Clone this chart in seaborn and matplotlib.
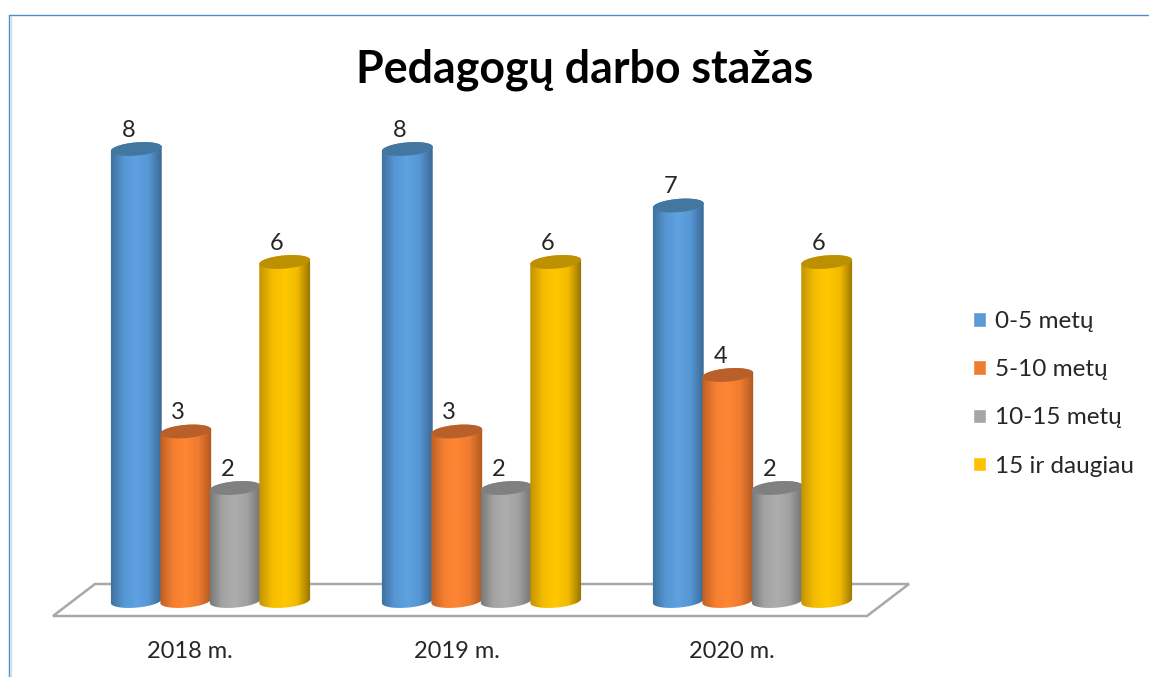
import numpy as np
import pandas as pd
import seaborn as sns
import matplotlib.pyplot as plt
from matplotlib.colors import LinearSegmentedColormap
from matplotlib.lines import Line2D
from matplotlib.patches import Polygon
from matplotlib.transforms import ScaledTranslation

years = ["2018 m.", "2019 m.", "2020 m."]
series = ["0-5 metų", "5-10 metų", "10-15 metų", "15 ir daugiau"]
v_0_5 = [8, 8, 7]
v_5_10 = [3, 3, 4]
v_10_15 = [2, 2, 2]
v_15_plus = [6, 6, 6]

legend_colors = ["#5b9bd5", "#ed7d31", "#a5a5a5", "#ffc000"]
body_colors = [
    ["#3f6f9c", "#5595d2", "#5fa2e2", "#5596d4", "#3c6a96"],
    ["#bd5f24", "#f57f32", "#ff8632", "#ee7b2f", "#b05820"],
    ["#777777", "#a3a3a3", "#adadad", "#a0a0a0", "#737373"],
    ["#c49300", "#f5bd00", "#ffc800", "#f0b900", "#947000"],
]
top_colors = ["#44779f", "#b9602a", "#808080", "#bc9000"]

W, H = 1149, 677
PX_X = 271.0    # pixels between two groups
PX_Y = 56.5     # pixels per unit
ZERO_PX = 601
GROUP0_PX = 210.5

sns.set_theme(style="white")
plt.rcParams["font.family"] = ["Lato", "DejaVu Sans"]

df = pd.DataFrame({
    "year": years * 4,
    "group": np.repeat(series, 3),
    "value": v_0_5 + v_5_10 + v_10_15 + v_15_plus,
})

fig = plt.figure(figsize=(W / 100, H / 100), dpi=100)
ax = fig.add_axes([0, (H - ZERO_PX) / H, 1, ZERO_PX / H])
sns.barplot(data=df, x="year", y="value", hue="group", hue_order=series,
            palette=legend_colors, width=0.73, gap=0, saturation=1, ax=ax)
ax.set_xlim(-GROUP0_PX / PX_X, (W - GROUP0_PX) / PX_X)
ax.set_ylim(0, ZERO_PX / PX_Y)
ax.set_xlabel("")
ax.set_ylabel("")
ax.set_yticks([])
sns.despine(ax=ax, left=True, bottom=True)


def ellipse_pts(cx, cy, t):
    # tilted ellipse around (cx, cy), sizes in pixels, result in data units
    a, b, angle = 25.5, 6.6, np.radians(-5)
    dx = a * np.cos(t) * np.cos(angle) + b * np.sin(t) * np.sin(angle)
    dy = -a * np.cos(t) * np.sin(angle) + b * np.sin(t) * np.cos(angle)
    return np.column_stack([cx + dx / PX_X, cy + dy / PX_Y])


# floor under the columns, corners in pixels
floor_px = [(53, 616), (867, 616), (909, 584), (95, 584)]
floor = [((x - GROUP0_PX) / PX_X, (ZERO_PX - y) / PX_Y) for x, y in floor_px]
ax.add_patch(Polygon(floor, closed=True, facecolor="white", edgecolor="#a8a8a8",
                     linewidth=1.8, clip_on=False, zorder=1))

# turn the flat bars into cylinders
for i, container in enumerate(ax.containers):
    cmap = LinearSegmentedColormap.from_list("cyl%d" % i, body_colors[i])
    for bar in container:
        bar.set_visible(False)
        cx = bar.get_x() + bar.get_width() / 2
        top = bar.get_height()
        z = 3 + i * 0.1
        lower = ellipse_pts(cx, 0, np.linspace(np.pi, 2 * np.pi, 40))
        upper = ellipse_pts(cx, top, np.linspace(0, np.pi, 40))
        body = Polygon(np.vstack([lower, upper]), closed=True,
                       facecolor="none", edgecolor="none", clip_on=False, zorder=z)
        ax.add_patch(body)
        half = 26 / PX_X
        im = ax.imshow(np.linspace(0, 1, 64).reshape(1, -1), cmap=cmap, aspect="auto",
                       extent=[cx - half, cx + half, -10 / PX_Y, top + 10 / PX_Y],
                       interpolation="bilinear", zorder=z)
        im.set_clip_box(fig.bbox)
        im.set_clip_path(body)
        cap = ellipse_pts(cx, top, np.linspace(0, 2 * np.pi, 80))
        ax.add_patch(Polygon(cap, closed=True, facecolor=top_colors[i],
                             edgecolor="none", zorder=z + 0.01))
        ax.annotate("%d" % top, (cx, top), xytext=(-5.5, 13.5), textcoords="offset points",
                    ha="center", va="center", fontsize=17, color="#262626",
                    zorder=6, annotation_clip=False)

ax.set_xlim(-GROUP0_PX / PX_X, (W - GROUP0_PX) / PX_X)
ax.set_ylim(0, ZERO_PX / PX_Y)

# category labels sit left of the group centres because of the 3d look
ax.tick_params(axis="x", length=0, pad=28.5, labelsize=17, labelcolor="#262626")
label_shift_px = [-20.5, -24.5, -20.5]
for label, shift in zip(ax.get_xticklabels(), label_shift_px):
    label.set_transform(label.get_transform() +
                        ScaledTranslation(shift / 100, 0, fig.dpi_scale_trans))

sns.move_legend(ax, "center left", bbox_to_anchor=(951 / W, 0.3447), frameon=False,
                title=None, fontsize=17.5, handlelength=0.53, handleheight=0.53,
                handletextpad=0.37, labelspacing=1.12, labelcolor="#262626")

fig.suptitle("Pedagogų darbo stažas", x=585 / W, y=1 - 70 / H, va="center",
             fontsize=32.2, fontweight="bold", color="black")

# thin frame, only top and left are inside the crop
for xs, ys, col in [([8.5, W], [14.5, 14.5], "#4f8ad6"),
                    ([8.5, 8.5], [14.5, H], "#4f8ad6"),
                    ([10.5, 10.5], [16, H], "#cfdcf0")]:
    fig.add_artist(Line2D([x / W for x in xs], [1 - y / H for y in ys],
                          color=col, linewidth=1.0))

fig.savefig("out.png", dpi=100)
